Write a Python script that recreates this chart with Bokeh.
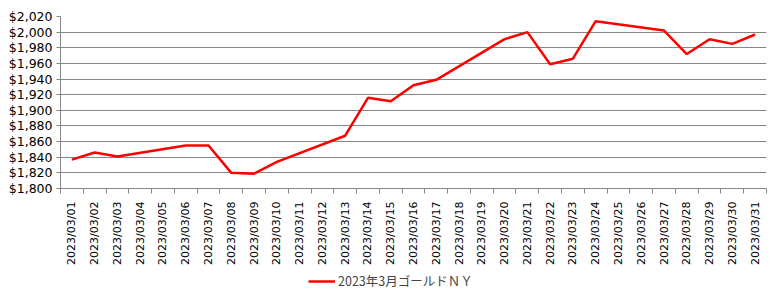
import math
from bokeh.plotting import figure
from bokeh.layouts import column
from bokeh.models import (ColumnDataSource, FixedTicker, NumeralTickFormatter,
                          Range1d, Legend, LegendItem)
from bokeh.embed import file_html
from bokeh.resources import INLINE

# --- data ---
categories = ["2023/03/%02d" % d for d in range(1, 32)]
trade_dates = ["2023/03/01", "2023/03/02", "2023/03/03", "2023/03/06", "2023/03/07",
               "2023/03/08", "2023/03/09", "2023/03/10", "2023/03/13", "2023/03/14",
               "2023/03/15", "2023/03/16", "2023/03/17", "2023/03/20", "2023/03/21",
               "2023/03/22", "2023/03/23", "2023/03/24", "2023/03/27", "2023/03/28",
               "2023/03/29", "2023/03/30", "2023/03/31"]
prices = [1837, 1846, 1841, 1855, 1855,
          1820, 1819, 1834, 1867.5, 1916,
          1911.5, 1932, 1939, 1991, 2000,
          1959, 1966, 2014, 2002, 1972,
          1991, 1985, 1997]
y_ticks = list(range(1800, 2021, 20))
series_name = "2023年3月ゴールドＮＹ"

LINE_COLOR = "#FF0000"
GRID_C = "#868686"

xs = [categories.index(d) + 0.5 for d in trade_dates]
src = ColumnDataSource(dict(x=xs, y=prices))

p = figure(frame_width=706, frame_height=172, output_backend="svg", toolbar_location=None,
           x_range=Range1d(0, len(categories)), y_range=Range1d(y_ticks[0], y_ticks[-1]),
           min_border_left=60, min_border_right=16, min_border_top=16,
           min_border_bottom=82)
p.outline_line_color = None
p.background_fill_color = "white"
p.border_fill_color = "white"

p.line("x", "y", source=src, line_color=LINE_COLOR, line_width=2.5)

# x axis
p.xaxis.ticker = FixedTicker(ticks=[i + 0.5 for i in range(len(categories))],
                             minor_ticks=list(range(len(categories) + 1)))
p.xaxis.major_label_overrides = {i + 0.5: c for i, c in enumerate(categories)}
p.xaxis.major_label_orientation = math.pi / 2
p.xaxis.major_tick_out = 0
p.xaxis.major_tick_in = 0
p.xaxis.minor_tick_out = 5
p.xaxis.minor_tick_in = 0
p.xaxis.minor_tick_line_color = GRID_C
p.xaxis.axis_line_color = GRID_C
p.xaxis.major_label_standoff = 8
p.xaxis.major_label_text_font = "DejaVu Sans"
p.xaxis.major_label_text_font_size = "11px"
p.xaxis.major_label_text_color = "black"

# y axis
p.yaxis.ticker = FixedTicker(ticks=y_ticks, minor_ticks=[])
p.yaxis.formatter = NumeralTickFormatter(format="$0,0")
p.yaxis.major_tick_out = 4
p.yaxis.major_tick_in = 0
p.yaxis.major_tick_line_color = GRID_C
p.yaxis.axis_line_color = GRID_C
p.yaxis.major_label_standoff = 4
p.yaxis.major_label_text_font = "DejaVu Sans"
p.yaxis.major_label_text_font_size = "12.5px"
p.yaxis.major_label_text_color = "black"

p.xgrid.grid_line_color = None
p.ygrid.grid_line_color = GRID_C
p.ygrid.grid_line_width = 1

# legend strip (separate figure below the chart; its line lies outside its ranges)
p2 = figure(width=782, height=32, output_backend="svg", toolbar_location=None,
            x_axis_location=None, y_axis_location=None,
            x_range=Range1d(0, 1), y_range=Range1d(0, 1), min_border=0)
p2.outline_line_color = None
p2.grid.visible = False
p2.background_fill_color = "white"
p2.border_fill_color = "white"
r2 = p2.line("x", "y", source=src, line_color=LINE_COLOR, line_width=2.5)

legend = Legend(items=[LegendItem(label=series_name, renderers=[r2])],
                location=(248, 12), orientation="horizontal",
                border_line_color=None, background_fill_alpha=0,
                padding=0, margin=0, glyph_width=27, glyph_height=14,
                label_standoff=3, label_text_font="Noto Sans CJK JP",
                label_text_font_size="12.5px", label_height=14)
p2.add_layout(legend, "center")

open("out.html", "w").write(file_html(column(p, p2, spacing=0), INLINE))
